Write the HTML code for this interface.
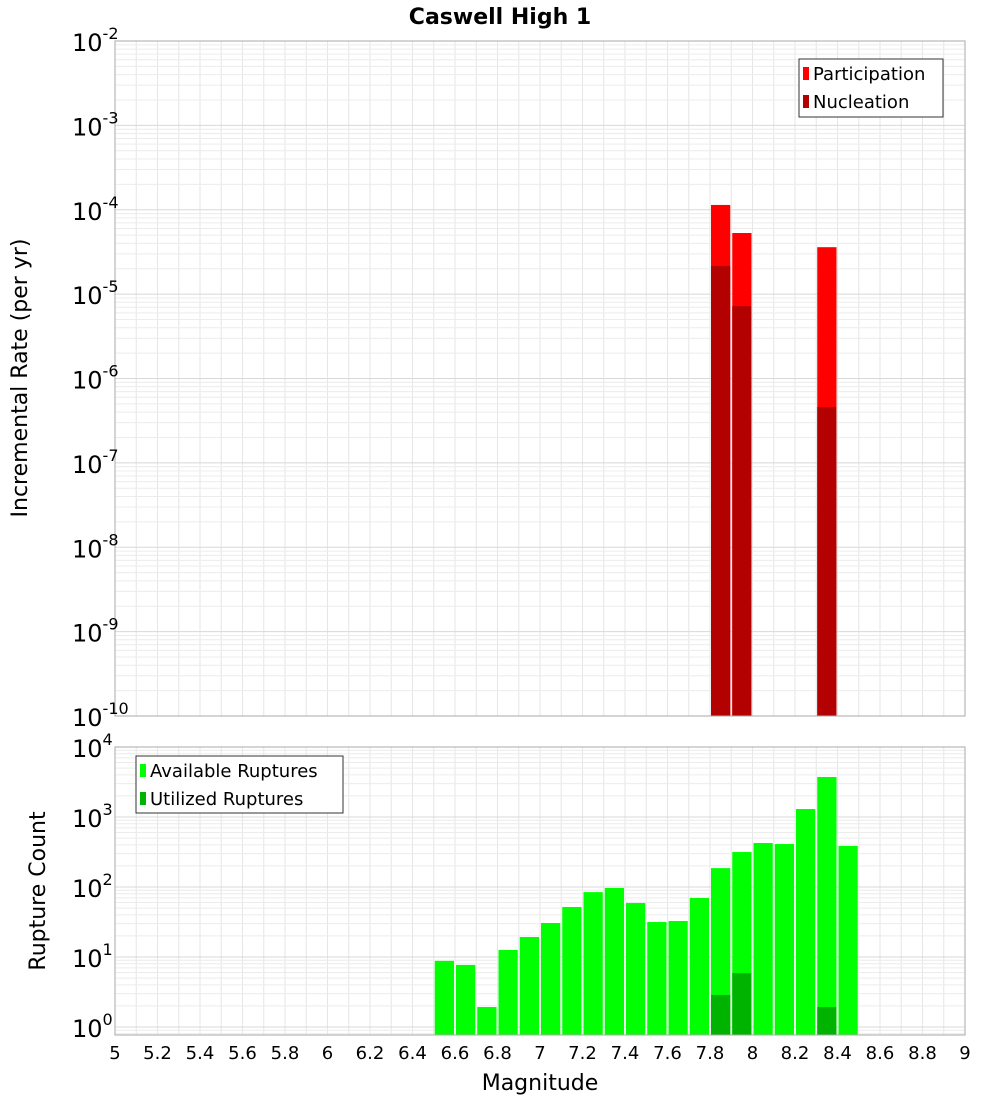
<!DOCTYPE html>
<html><head><meta charset="utf-8"><style>
body{margin:0;background:#fff;}
svg text{font-family:"DejaVu Sans","Liberation Sans",sans-serif;}
</style></head><body>
<svg id="chart" width="1000" height="1100" xmlns="http://www.w3.org/2000/svg">
<text x="500" y="24" text-anchor="middle" font-size="22" font-weight="bold">Caswell High 1</text>
<g id="top"></g>
<g id="bot"></g>
<text transform="translate(27,378) rotate(-90)" text-anchor="middle" font-size="22">Incremental Rate (per yr)</text>
<text transform="translate(45,891) rotate(-90)" text-anchor="middle" font-size="22">Rupture Count</text>
<text x="540" y="1090" text-anchor="middle" font-size="22">Magnitude</text>
<g>
<rect x="799" y="59" width="144" height="58" fill="#fff" stroke="#333"/>
<rect x="803" y="67" width="6" height="13" fill="#ff0000"/>
<text x="813" y="80" font-size="18">Participation</text>
<rect x="803" y="95" width="6" height="13" fill="#b30000"/>
<text x="813" y="108" font-size="18">Nucleation</text>
</g>
<g>
<rect x="136" y="756" width="207" height="57" fill="#fff" stroke="#333"/>
<rect x="140" y="764" width="6" height="13" fill="#00ff00"/>
<text x="150" y="777" font-size="18">Available Ruptures</text>
<rect x="140" y="792" width="6" height="13" fill="#00b300"/>
<text x="150" y="805" font-size="18">Utilized Ruptures</text>
</g>
</svg>
<script>
const partMags=[7.85,7.95,8.35];
const partRates=[1.14e-4,5.3e-5,3.6e-5];
const nuclMags=[7.85,7.95,8.35];
const nuclRates=[2.16e-5,7.2e-6,4.6e-7];
const availMags=[6.55,6.65,6.75,6.85,6.95,7.05,7.15,7.25,7.35,7.45,7.55,7.65,7.75,7.85,7.95,8.05,8.15,8.25,8.35,8.45];
const availCounts=[8.8,7.7,1.93,12.6,19.3,30.6,51.8,84.5,96.8,59,31.6,32.7,69.7,186,316,425,411,1300,3730,386];
const usedMags=[7.85,7.95,8.35];
const usedCounts=[2.87,5.9,1.93];
const xTicks=[5,5.2,5.4,5.6,5.8,6,6.2,6.4,6.6,6.8,7,7.2,7.4,7.6,7.8,8,8.2,8.4,8.6,8.8,9];
const topExps=[-2,-3,-4,-5,-6,-7,-8,-9,-10];
const botExps=[4,3,2,1,0];

const NS="http://www.w3.org/2000/svg";
const X0=115,X1=965;
const xs=m=>X0+(m-5)/4*(X1-X0);
const yTop=v=>41+(-2-Math.log10(v))*84.375;
const yBot=v=>747+(4-Math.log10(v))*70;
function mk(p,t,a){const e=document.createElementNS(NS,t);for(const k in a)e.setAttribute(k,a[k]);p.appendChild(e);return e;}
function grid(g,yT,yB,yf,eHi,eLo){
  for(let i=0;i<=40;i++){const x=xs(5+i*0.1);mk(g,'line',{x1:x,x2:x,y1:yT,y2:yB,stroke:'#e6e6e6','stroke-width':1});}
  for(let e=eLo;e<eHi;e++)for(let k=1;k<10;k++){const y=yf(k*Math.pow(10,e));if(y>=yT&&y<=yB)mk(g,'line',{x1:X0,x2:X1,y1:y,y2:y,stroke:k==1?'#d8d8d8':'#ececec','stroke-width':1});}
}
const gTop=document.getElementById('top'),gBot=document.getElementById('bot');
grid(gTop,41,716,yTop,-2,-10);
grid(gBot,747,1035,yBot,4,-1);
function bar(g,m,v,yf,base,fill,name){
  const r=mk(g,'rect',{x:xs(m-0.05)+1,y:yf(v),width:xs(m+0.05)-xs(m-0.05)-2,height:base-yf(v),fill:fill});
  
  
}
partMags.forEach((m,i)=>bar(gTop,m,partRates[i],yTop,716,'#ff0000','bar-participation-'+m));
nuclMags.forEach((m,i)=>bar(gTop,m,nuclRates[i],yTop,716,'#b30000','bar-nucleation-'+m));
availMags.forEach((m,i)=>bar(gBot,m,availCounts[i],yBot,1035,'#00ff00','bar-available-'+m));
usedMags.forEach((m,i)=>bar(gBot,m,usedCounts[i],yBot,1035,'#00b300','bar-utilized-'+m));
mk(gTop,'rect',{x:X0,y:41,width:X1-X0,height:675,fill:'none',stroke:'#aaa'});
mk(gBot,'rect',{x:X0,y:747,width:X1-X0,height:288,fill:'none',stroke:'#aaa'});
function ylab(g,e,y){
  const t=mk(g,'text',{x:72,y:y+10,'font-size':24});
  
  
  t.textContent='10';
  const s=mk(t,'tspan',{dy:-12,'font-size':16});s.textContent=e;
}
topExps.forEach(e=>ylab(gTop,e,yTop(Math.pow(10,e))));
botExps.forEach(e=>ylab(gBot,e,yBot(Math.pow(10,e))));
xTicks.forEach(v=>{
  const t=mk(gBot,'text',{x:xs(v),y:1059,'text-anchor':'middle','font-size':18});
  
  
  t.textContent=String(Math.round(v*10)/10);
});
</script>
</body></html>
